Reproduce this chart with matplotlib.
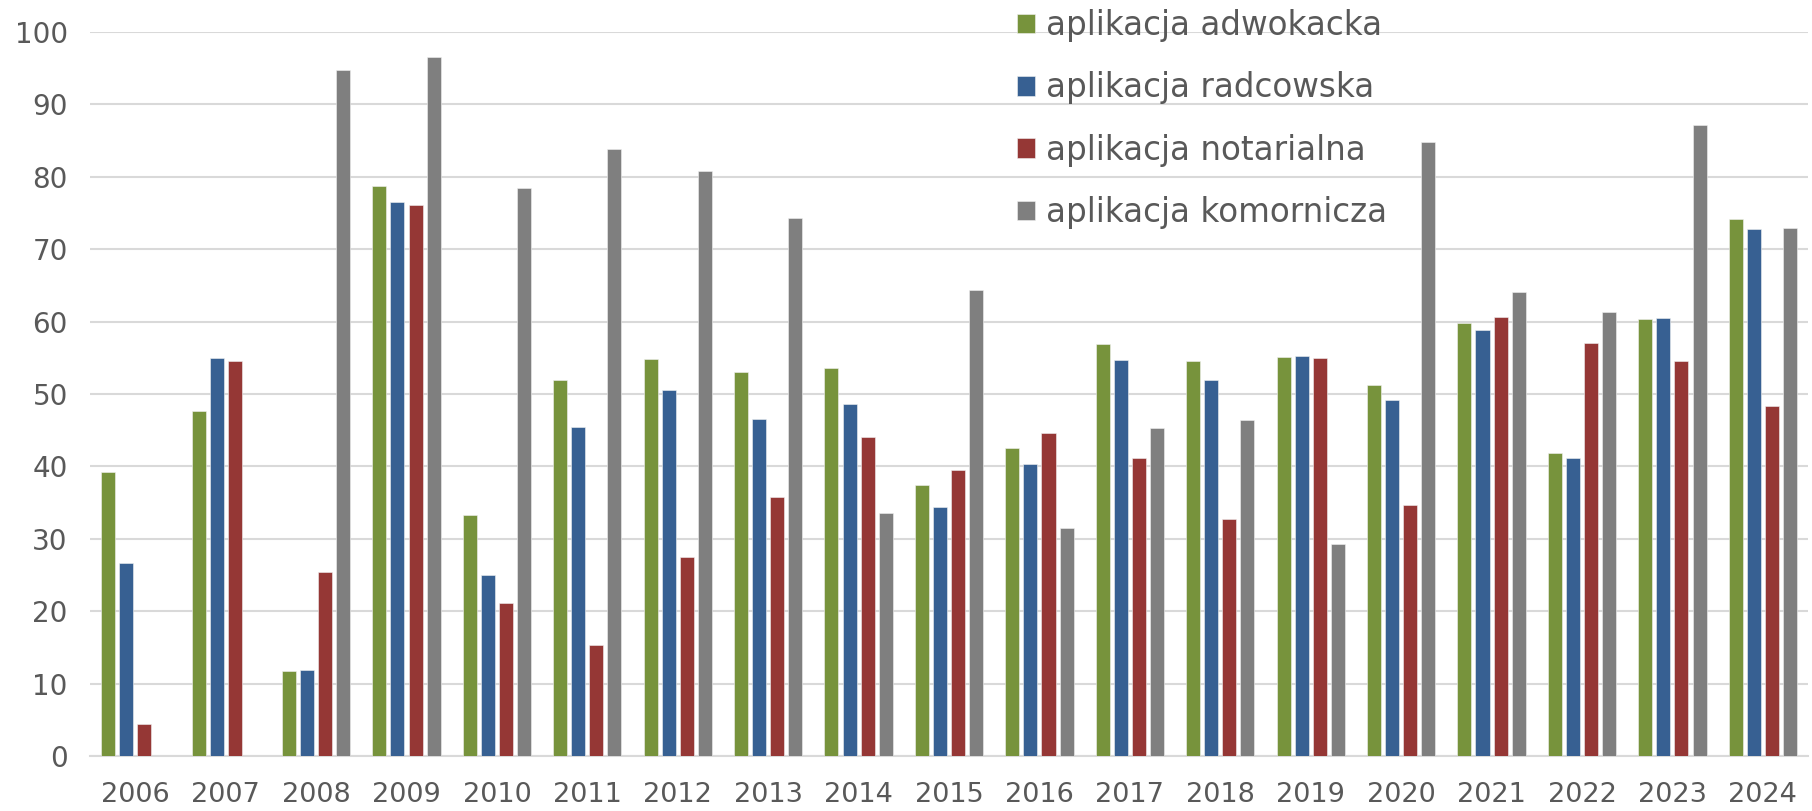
import matplotlib.pyplot as plt
import numpy as np

years = [str(y) for y in range(2006, 2025)]

# (procent zdających)
adwokacka = [39.2, 47.7, 11.7, 78.7, 33.3, 51.9, 54.9, 53.1, 53.6, 37.5,
             42.6, 56.9, 54.6, 55.1, 51.3, 59.8, 41.9, 60.4, 74.2]
radcowska = [26.7, 55.0, 11.9, 76.5, 25.0, 45.4, 50.5, 46.5, 48.6, 34.4,
             40.3, 54.7, 51.9, 55.3, 49.2, 58.9, 41.2, 60.5, 72.8]
notarialna = [4.4, 54.5, 25.4, 76.1, 21.1, 15.4, 27.5, 35.8, 44.1, 39.5,
              44.6, 41.1, 32.7, 55.0, 34.7, 60.7, 57.0, 54.6, 48.4]
komornicza = [np.nan, np.nan, 94.8, 96.6, 78.5, 83.9, 80.8, 74.3, 33.5, 64.4,
              31.5, 45.3, 46.4, 29.3, 84.8, 64.1, 61.3, 87.1, 72.9]

series = [
    ("aplikacja adwokacka", adwokacka, "#77933C"),
    ("aplikacja radcowska", radcowska, "#376092"),
    ("aplikacja notarialna", notarialna, "#953735"),
    ("aplikacja komornicza", komornicza, "#7F7F7F"),
]

text_color = "#595959"
grid_color = "#D9D9D9"

fig = plt.figure(figsize=(18.12, 8.11), dpi=100)
ax = fig.add_axes([0.0497, 0.0678, 0.9481, 0.8927])

x = np.arange(len(years))
step = 0.2
width = 0.155
for i, (name, vals, color) in enumerate(series):
    ax.bar(x + (i - 1.5) * step, vals, width=width, color=color,
           edgecolor="#f2f2f2", linewidth=0.4, label=name, zorder=3)

ax.set_xlim(-0.5, len(years) - 0.5)
ax.set_ylim(0, 100)
ax.set_yticks(range(0, 101, 10))
ax.set_xticks(x)
ax.set_xticklabels(years)

ax.grid(axis="y", color=grid_color, linewidth=1.5, zorder=0)
for s in ["top", "right", "left"]:
    ax.spines[s].set_visible(False)
ax.spines["bottom"].set_color(grid_color)
ax.spines["bottom"].set_linewidth(1.5)

ax.tick_params(axis="both", length=0, labelsize=20, labelcolor=text_color)
ax.tick_params(axis="x", labelsize=19.5, pad=19)
ax.tick_params(axis="y", pad=16)

leg = ax.legend(loc="upper left", bbox_to_anchor=(0.532, 1.05), frameon=False,
                fontsize=23.5, handlelength=0.55, handleheight=0.55,
                handletextpad=0.35, labelspacing=0.9, borderaxespad=0)
for t in leg.get_texts():
    t.set_color(text_color)

fig.savefig("out.png", dpi=100, facecolor="white")
